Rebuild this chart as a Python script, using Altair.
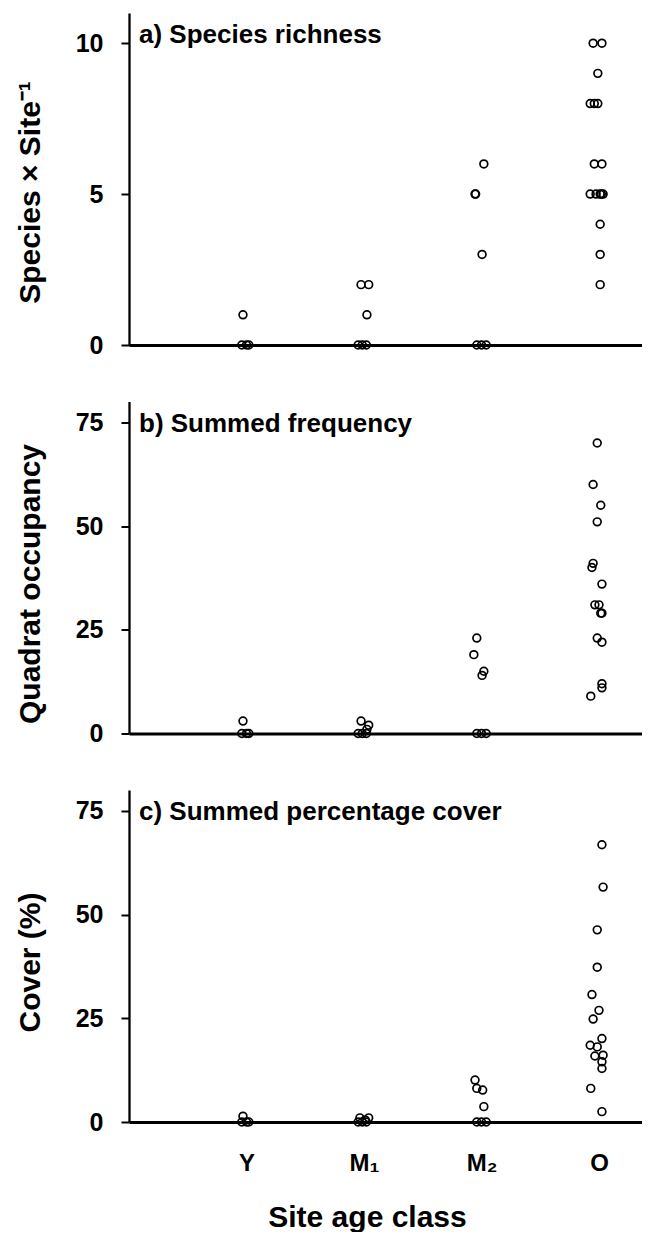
import altair as alt
import pandas as pd

# Site age classes (x positions 1..4)
classes = ["Y", "M₁", "M₂", "O"]
class_pos = [1, 2, 3, 4]

# ---- a) Species richness (species per site) ----
rich_vals = {
    "Y": [0, 0, 0, 1],
    "M₁": [2, 2, 1, 0, 0, 0],
    "M₂": [6, 5, 5, 3, 0, 0, 0],
    "O": [10, 10, 9, 8, 8, 8, 6, 6, 5, 5, 5, 5, 5, 4, 3, 2],
}
rich_jit = {
    "Y": [-0.04, 0.0, 0.02, -0.03],
    "M₁": [-0.025, 0.04, 0.025, -0.05, -0.015, 0.02],
    "M₂": [0.02, -0.055, -0.05, 0.005, -0.04, 0.0, 0.04],
    "O": [-0.05, 0.025, -0.01, -0.075, -0.04, -0.01, -0.04, 0.025,
          -0.075, -0.025, 0.01, 0.035, 0.02, 0.01, 0.01, 0.01],
}

# ---- b) Summed frequency (quadrat occupancy) ----
freq_vals = {
    "Y": [3, 0, 0, 0],
    "M₁": [3, 2, 1, 0, 0, 0],
    "M₂": [23, 19, 15, 14, 0, 0, 0],
    "O": [70, 60, 55, 51, 41, 40, 36, 31, 31, 29, 29, 23, 22, 12, 11, 9],
}
freq_jit = {
    "Y": [-0.03, -0.04, 0.0, 0.02],
    "M₁": [-0.025, 0.04, 0.025, -0.05, -0.015, 0.02],
    "M₂": [-0.04, -0.065, 0.02, 0.005, -0.04, 0.0, 0.04],
    "O": [-0.015, -0.05, 0.015, -0.015, -0.05, -0.06, 0.025, -0.035,
          0.0, 0.025, 0.015, -0.015, 0.025, 0.025, 0.025, -0.07],
}

# ---- c) Summed percentage cover ----
cover_vals = {
    "Y": [1.4, 0, 0, 0],
    "M₁": [1.0, 1.0, 0.5, 0, 0, 0],
    "M₂": [10.1, 8.1, 7.7, 3.7, 0, 0, 0],
    "O": [66.8, 56.6, 46.3, 37.3, 30.7, 26.9, 24.8, 20.1, 18.5, 18.1,
          15.9, 16.1, 14.5, 12.9, 8.1, 2.5],
}
cover_jit = {
    "Y": [-0.03, -0.04, 0.0, 0.02],
    "M₁": [-0.035, 0.04, 0.01, -0.05, -0.015, 0.02],
    "M₂": [-0.055, -0.04, 0.01, 0.02, -0.04, 0.0, 0.04],
    "O": [0.025, 0.035, -0.015, -0.015, -0.06, 0.0, -0.05, 0.025,
          -0.075, -0.015, -0.035, 0.035, 0.025, 0.025, -0.07, 0.025],
}

panel_labels = ["a) Species richness", "b) Summed frequency", "c) Summed percentage cover"]
y_titles = ["Species × Site⁻¹", "Quadrat occupancy", "Cover (%)"]
y_ticks = [[0, 5, 10], [0, 25, 50, 75], [0, 25, 50, 75]]
y_max = [11, 80, 80]
x_title = "Site age class"

FONT = "Liberation Sans"
W, H = 513, 332
XMAX = 4.366


def to_frame(vals, jit):
    rows = []
    for c, p in zip(classes, class_pos):
        for v, j in zip(vals[c], jit[c]):
            rows.append({"cls": c, "xpos": p + j, "value": v})
    return pd.DataFrame(rows)


label_expr = "[''," + ",".join("'" + c + "'" for c in classes) + "][datum.value]"


def panel(df, i, title_y, show_x):
    if show_x:
        xaxis = alt.Axis(values=class_pos, labelExpr=label_expr, ticks=False,
                         labelFontSize=24, labelFontWeight="bold", labelColor="black",
                         labelFont=FONT, labelPadding=29, labelFlush=False,
                         domainColor="black", domainWidth=3, grid=False,
                         title=x_title, titleFontSize=30, titleFontWeight="bold",
                         titleFont=FONT, titleColor="black", titleX=238, titleY=104,
                         titleBaseline="alphabetic", titleAlign="center")
    else:
        xaxis = alt.Axis(values=class_pos, labels=False, ticks=False, title=None,
                         domainColor="black", domainWidth=3, grid=False)
    yaxis = alt.Axis(values=y_ticks[i], tickSize=8, tickWidth=2, tickColor="black",
                     domainColor="black", domainWidth=2.3, grid=False,
                     labelFontSize=25, labelFontWeight="bold", labelColor="black",
                     labelFont=FONT, labelPadding=18,
                     title=y_titles[i], titleFontSize=30, titleFontWeight="bold",
                     titleFont=FONT, titleColor="black", titleAngle=270,
                     titleX=-99, titleY=title_y, titleAlign="center",
                     titleBaseline="middle")
    pts = alt.Chart(df).mark_point(shape="circle", filled=False, size=60,
                                   strokeWidth=1.7, color="black", opacity=1).encode(
        x=alt.X("xpos:Q", scale=alt.Scale(domain=[0, XMAX], nice=False, zero=False),
                axis=xaxis),
        y=alt.Y("value:Q", scale=alt.Scale(domain=[0, y_max[i]], nice=False),
                axis=yaxis),
    )
    txt = alt.Chart(pd.DataFrame({"t": [panel_labels[i]]})).mark_text(
        align="left", baseline="alphabetic", fontSize=26, fontWeight="bold",
        font=FONT, color="black").encode(
        x=alt.value(10), y=alt.value(30), text="t:N")
    return alt.layer(pts, txt).properties(width=W, height=H)


pa = panel(to_frame(rich_vals, rich_jit), 0, 179, False)
pb = panel(to_frame(freq_vals, freq_jit), 1, 182, False)
pc = panel(to_frame(cover_vals, cover_jit), 2, 172, True)

chart = alt.vconcat(pa, pb, pc, spacing=43.5).properties(
    padding={"left": 7, "top": 5, "right": 0, "bottom": 0}
).configure(background="white").configure_view(stroke=None, strokeWidth=0)

chart.save("out.html", embed_options={"renderer": "svg", "actions": False})
